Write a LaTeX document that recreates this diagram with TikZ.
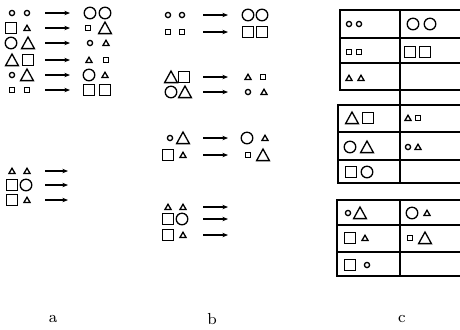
\documentclass[tikz,border=0pt]{standalone}
\usepackage{tikz}
\usetikzlibrary{arrows.meta}

\tikzset{
  so/.pic={\draw (0,0) circle (1.3pt);},
  bo/.pic={\draw (0,0) circle (2.9pt);},
  ss/.pic={\draw (-1.2pt,-1.2pt) rectangle (1.2pt,1.2pt);},
  bs/.pic={\draw (-2.7pt,-2.7pt) rectangle (2.7pt,2.7pt);},
  st/.pic={\draw (-1.5pt,-1.2pt) -- (1.5pt,-1.2pt) -- (0,1.4pt) -- cycle;},
  bt/.pic={\draw (-3.2pt,-2.8pt) -- (3.2pt,-2.8pt) -- (0,3pt) -- cycle;},
  arr/.style={-{Stealth[length=2.8pt,width=2.2pt]}, line width=0.55pt},
  tab/.style={line width=0.8pt},
  lbl/.style={font=\fontsize{8}{9}\selectfont}
}

\begin{document}
\begin{tikzpicture}[x=0.5pt, y=-0.5pt, line width=0.65pt]
  \useasboundingbox (0,0) rectangle (460,329);

  % panel a
  \pic at (12,13) {so}; \pic at (27,13) {so}; \pic at (90,13) {bo}; \pic at (105,13) {bo};
  \pic at (11,28) {bs}; \pic at (27,28) {st}; \pic at (88,28) {ss}; \pic at (105,28) {bt};
  \pic at (11,43) {bo}; \pic at (28,43) {bt}; \pic at (90,43) {so}; \pic at (106,43) {st};
  \pic at (12,60) {bt}; \pic at (28,60) {bs}; \pic at (89,60) {st}; \pic at (106,60) {ss};
  \pic at (12,75) {so}; \pic at (27,75) {bt}; \pic at (89,75) {bo}; \pic at (105,75) {st};
  \pic at (12,90) {ss}; \pic at (27,90) {ss}; \pic at (89,90) {bs}; \pic at (105,90) {bs};
  \foreach \y [count=\i] in {13,28,43,60,75,90} {
    \coordinate (a\i s) at (45,\y);
    \coordinate (a\i e) at (70,\y);
    \draw[arr] (a\i s) -- (a\i e);
  }

  \pic at (12,171) {st}; \pic at (27,171) {st};
  \pic at (12,185) {bs}; \pic at (26,185) {bo};
  \pic at (12,200) {bs}; \pic at (27,200) {st};
  \foreach \y [count=\i] in {171,185,200} {
    \coordinate (a\i ls) at (45,\y);
    \coordinate (a\i le) at (68,\y);
    \draw[arr] (a\i ls) -- (a\i le);
  }

  % panel b
  \pic at (168,15) {so}; \pic at (182,15) {so}; \pic at (248,15) {bo}; \pic at (262,15) {bo};
  \pic at (168,32) {ss}; \pic at (182,32) {ss}; \pic at (248,32) {bs}; \pic at (262,32) {bs};
  \pic at (171,77) {bt}; \pic at (184,77) {bs}; \pic at (248,77) {st}; \pic at (263,77) {ss};
  \pic at (171,92) {bo}; \pic at (185,92) {bt}; \pic at (248,92) {so}; \pic at (264,92) {st};
  \pic at (170,138) {so}; \pic at (183,138) {bt}; \pic at (247,138) {bo}; \pic at (265,138) {st};
  \pic at (168,155) {bs}; \pic at (183,155) {st}; \pic at (248,155) {ss}; \pic at (263,155) {bt};
  \pic at (168,207) {st}; \pic at (183,207) {st};
  \pic at (168,219) {bs}; \pic at (182,219) {bo};
  \pic at (168,235) {bs}; \pic at (183,235) {st};
  \foreach \y [count=\i] in {15,32,77,92,138,155,207,219,235} {
    \coordinate (b\i s) at (203,\y);
    \coordinate (b\i e) at (228,\y);
    \draw[arr] (b\i s) -- (b\i e);
  }

  % panel c
  \draw[tab] (460,10) -- (340,10) -- (340,90) -- (460,90);
  \draw[tab] (340,38) -- (460,38) (340,63) -- (460,63);
  \draw[tab] (460,105) -- (338,105) -- (338,183) -- (460,183);
  \draw[tab] (338,132) -- (460,132) (338,160) -- (460,160);
  \draw[tab] (400,10) -- (400,183);
  \draw[tab] (460,200) -- (337,200) -- (337,276) -- (460,276);
  \draw[tab] (337,225) -- (460,225) (337,252) -- (460,252);
  \draw[tab] (400,200) -- (400,276);

  \pic at (349,24) {so}; \pic at (359,24) {so}; \pic at (413,24) {bo}; \pic at (430,24) {bo};
  \pic at (349,52) {ss}; \pic at (359,52) {ss}; \pic at (410,52) {bs}; \pic at (425,52) {bs};
  \pic at (349,78) {st}; \pic at (361,78) {st};

  \pic at (352,118) {bt}; \pic at (368,118) {bs}; \pic at (408,118) {st}; \pic at (418,118) {ss};
  \pic at (350,147) {bo}; \pic at (367,147) {bt}; \pic at (408,147) {so}; \pic at (418,147) {st};
  \pic at (351,172) {bs}; \pic at (367,172) {bo};

  \pic at (348,213) {so}; \pic at (360,213) {bt}; \pic at (412,213) {bo}; \pic at (427,213) {st};
  \pic at (350,238) {bs}; \pic at (365,238) {st}; \pic at (410,238) {ss}; \pic at (425,238) {bt};
  \pic at (350,265) {bs}; \pic at (367,265) {so};

  % labels
  \node[lbl] (la) at (53,319) {a};
  \node[lbl] (lb) at (212,319) {b};
  \node[lbl] (lc) at (402,319) {c};
\end{tikzpicture}
\end{document}
